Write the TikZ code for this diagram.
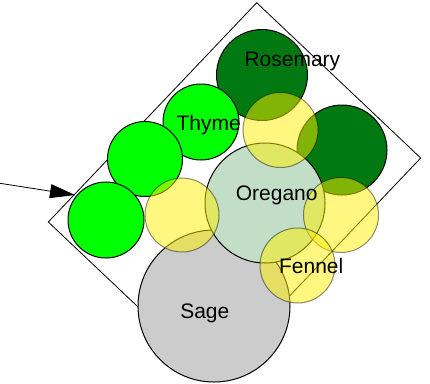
\documentclass[tikz,border=0pt]{standalone}
\usepackage{fontspec}
\setmainfont{Liberation Sans}
\usetikzlibrary{arrows.meta}
\definecolor{dgreen}{RGB}{0,122,16}
\definecolor{lgreen}{RGB}{0,255,0}
\definecolor{oregano}{RGB}{194,222,198}
\definecolor{sage}{RGB}{204,204,204}
\definecolor{yel}{RGB}{255,240,0}
\begin{document}
\begin{tikzpicture}[x=1pt,y=-1pt,
  herb/.style={circle, inner sep=0pt, draw=black, line width=1pt},
  mix/.style={circle, inner sep=0pt, draw=black, draw opacity=0.45, fill=yel, fill opacity=0.5, line width=1pt},
  lbl/.style={anchor=base, inner sep=0pt, font=\fontsize{21}{25}\selectfont},
  bed/.style={draw=black, line width=0.8pt}]
\useasboundingbox (0,0) rectangle (430,383);
\fill[white] (0,0) rectangle (430,383);
% bed rectangle
\coordinate (top) at (256.7,2.7);
\coordinate (right) at (420.7,158);
\coordinate (bottom) at (212.3,377.3);
\coordinate (left) at (48.3,222);
\draw[bed] (top) -- (right) -- (bottom) -- (left) -- cycle;
% arrow
\coordinate (src) at (0,183.3);
\coordinate (tip) at (75,195);
\draw[line width=0.8pt, -{Triangle[length=25pt,width=14pt]}] (src) -- (tip);
% opaque circles
\node[herb, fill=dgreen, minimum size=91pt] (rosemary) at (262,75) {};
\node[herb, fill=dgreen, minimum size=90pt] (dg) at (342,150) {};
\node[herb, fill=lgreen, minimum size=76pt] (thyme) at (201,122) {};
\node[herb, fill=lgreen, minimum size=75pt] (g2) at (145,159) {};
\node[herb, fill=lgreen, minimum size=76pt] (g3) at (106,220) {};
\node[herb, fill=sage, minimum size=152pt] (sage) at (214,306) {};
\node[herb, fill=oregano, minimum size=120pt] (oregano) at (265,203) {};
% translucent circles
\node[mix, minimum size=75pt] (y1) at (280.5,130) {};
\node[mix, minimum size=74pt] (y2) at (182,215) {};
\node[mix, minimum size=75pt] (y3) at (341,215) {};
\node[mix, minimum size=75pt] (fennel) at (297.5,265.5) {};
% labels
\node[lbl] (rosemarylbl) at (292.4,66.7) {Rosemary};
\node[lbl] (thymelbl) at (208.7,130) {Thyme};
\node[lbl] (oreganolbl) at (276.7,200) {Oregano};
\node[lbl] (sagelbl) at (204.8,318) {Sage};
\node[lbl] (fennellbl) at (311.2,273) {Fennel};
\end{tikzpicture}
\end{document}
